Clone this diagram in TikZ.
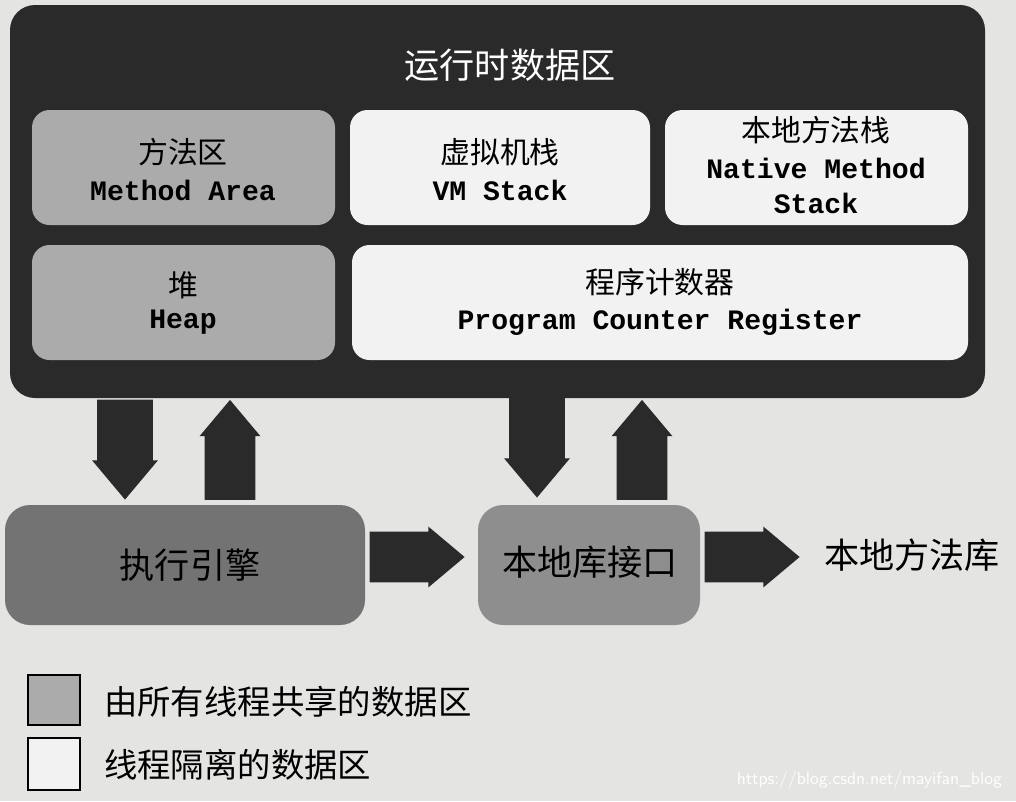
\documentclass[tikz,border=0pt]{standalone}
\usepackage{fontspec}
\setmonofont{Liberation Mono}
\newfontfamily\cjk{Noto Sans CJK SC}
\usetikzlibrary{shapes.arrows}
\definecolor{bgpaper}{HTML}{E4E4E2}
\definecolor{darkarea}{HTML}{2A2A2A}
\definecolor{sharedgray}{HTML}{ABABAB}
\definecolor{privgray}{HTML}{F2F2F2}
\definecolor{enginegray}{HTML}{737373}
\definecolor{ifacegray}{HTML}{8E8E8E}
\tikzset{
  area/.style={rounded corners=0.35cm, inner sep=0pt},
  lbl/.style={align=center, font=\cjk\fontsize{17}{22}\selectfont},
  big/.style={lbl, font=\cjk\fontsize{20}{24}\selectfont},
  en/.style={font=\ttfamily\bfseries\fontsize{16}{20}\selectfont},
  fatarrow/.style={single arrow, fill=darkarea, draw=none, inner xsep=0pt,
    inner ysep=0.55cm, single arrow head extend=0.1cm, single arrow tip angle=80,
    minimum height=2cm}
}
\begin{document}
\begin{tikzpicture}[x=0.02cm,y=-0.02cm]
% Paper
\fill[bgpaper] (0,0) rectangle (1016,801);
\useasboundingbox (0,0) rectangle (1016,801);
% Runtime data area
\fill[darkarea, rounded corners=0.5cm] (10,5) rectangle (985,398);
\node[big, text=white] (title) at (510,65) {运行时数据区};
% Inner areas
\fill[sharedgray, area] (32,110) rectangle (335,225);
\fill[privgray, area] (350,110) rectangle (650,225);
\fill[privgray, area] (665,110) rectangle (968,225);
\fill[sharedgray, area] (32,245) rectangle (335,360);
\fill[privgray, area] (352,245) rectangle (968,360);
\node[lbl] (method) at (183,152) {方法区};
\node[en] (methoden) at (183,190) {Method Area};
\node[lbl] (vms) at (500,152) {虚拟机栈};
\node[en] (vmsen) at (500,190) {VM Stack};
\node[lbl] (native) at (816,130) {本地方法栈};
\node[en, align=center] (nativeen) at (816,186) {Native Method\\Stack};
\node[lbl] (heap) at (183,285) {堆};
\node[en] (heapen) at (183,322) {Heap};
\node[lbl] (pc) at (660,282) {程序计数器};
\node[en] (pcen) at (660,322) {Program Counter Register};
% Lower blocks
\fill[enginegray, rounded corners=0.5cm] (5,505) rectangle (365,625);
\fill[ifacegray, rounded corners=0.5cm] (478,505) rectangle (700,625);
\node[big] (engine) at (190,565) {执行引擎};
\node[big] (iface) at (590,562) {本地库接口};
\node[big] (lib) at (912,555) {本地方法库};
% Fat arrows
\node[fatarrow, rotate=-90] (a1) at (125,433) {};
\node[fatarrow, rotate=90, inner ysep=0.5cm] (a2) at (230,465) {};
\node[fatarrow, rotate=-90] (a3) at (537,431) {};
\node[fatarrow, rotate=90, inner ysep=0.5cm] (a4) at (642,465) {};
\node[fatarrow, minimum height=1.9cm, inner ysep=0.5cm] (a5) at (402,557) {};
\node[fatarrow, minimum height=1.9cm, inner ysep=0.5cm] (a6) at (737,557) {};
% Legend
\fill[sharedgray, draw=black, line width=0.8pt] (28,675) rectangle (80,725);
\draw[fill=privgray, line width=0.8pt] (28,738) rectangle (80,790);
\node[big, anchor=west, font=\cjk\fontsize{19}{22}\selectfont] (shared) at (98,702) {由所有线程共享的数据区};
\node[big, anchor=west, font=\cjk\fontsize{19}{22}\selectfont] (priv) at (98,765) {线程隔离的数据区};
\node[anchor=east, text=white, font=\sffamily\fontsize{10}{12}\selectfont] (mark) at (1008,780) {https://blog.csdn.net/mayifan\_blog};
\end{tikzpicture}
\end{document}
